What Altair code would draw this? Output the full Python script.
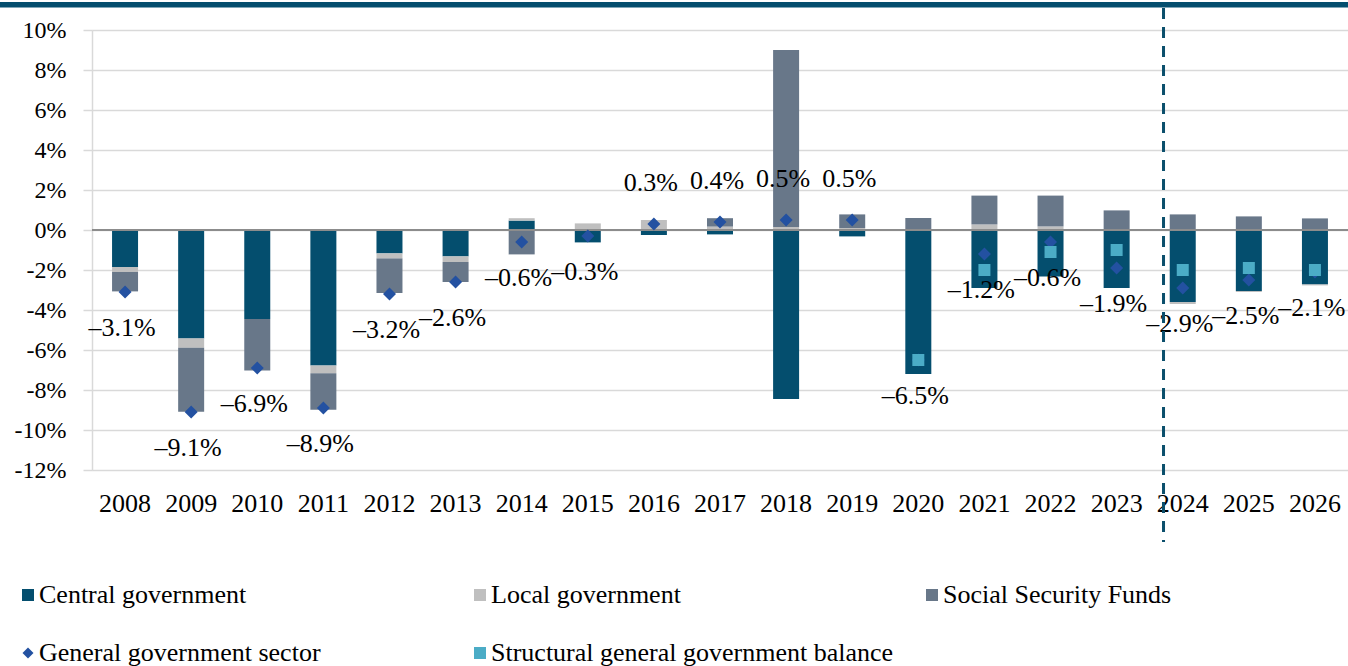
import altair as alt
import pandas as pd

SERIF = "Liberation Serif, Times New Roman, serif"

years = ["2008", "2009", "2010", "2011", "2012", "2013", "2014", "2015", "2016", "2017",
         "2018", "2019", "2020", "2021", "2022", "2023", "2024", "2025", "2026"]

# Balance by sub-sector, % of GDP
central = [-1.85, -5.42, -4.45, -6.78, -1.17, -1.32, 0.47, -0.62, -0.25, -0.22,
           -8.45, -0.32, -7.20, -2.90, -2.32, -2.90, -3.60, -3.05, -2.72]
local = [-0.25, -0.47, 0.00, -0.38, -0.25, -0.28, 0.12, 0.33, 0.50, 0.17,
         0.15, 0.10, 0.00, 0.28, 0.18, 0.00, -0.10, -0.05, -0.05]
social_security = [-0.97, -3.20, -2.58, -1.83, -1.73, -1.00, -1.22, 0.00, 0.00, 0.42,
                   8.85, 0.68, 0.60, 1.44, 1.54, 0.98, 0.78, 0.68, 0.58]

general_gov = [-3.1, -9.1, -6.9, -8.9, -3.2, -2.6, -0.6, -0.3, 0.3, 0.4,
               0.5, 0.5, -6.5, -1.2, -0.6, -1.9, -2.9, -2.5, -2.1]
structural_years = ["2020", "2021", "2022", "2023", "2024", "2025", "2026"]
structural = [-6.5, -2.0, -1.1, -1.0, -2.0, -1.9, -2.0]

series_names = ["Central government", "Local government", "Social Security Funds"]
series_colors = ["#044e6e", "#bfbfbf", "#687789"]
gg_name = "General government sector"
st_name = "Structural general government balance"
gg_color = "#2351a1"
st_color = "#4bacc6"

# long table for the stacked bars
rows = []
for order, (name, vals) in enumerate(zip(series_names, [central, local, social_security])):
    for y, v in zip(years, vals):
        rows.append({"year": y, "series": name, "value": v, "ord": order})
bar_df = pd.DataFrame(rows)

gg_df = pd.DataFrame({"year": years, "value": general_gov})
gg_df["label"] = gg_df["value"].map(lambda v: f"{v:.1f}%".replace("-", "\u2013"))
st_df = pd.DataFrame({"year": structural_years, "value": structural})

x_scale = alt.Scale(paddingInner=0.6, paddingOuter=0.3)
x_axis = alt.Axis(title=None, labelAngle=0, labelFont=SERIF, labelFontSize=26,
                  labelColor="#000000", labelPadding=20, domain=False, ticks=False,
                  grid=False)


def x_enc(**kw):
    return alt.X("year:N", sort=years, scale=x_scale, axis=x_axis, **kw)


y_scale = alt.Scale(domain=[-12, 10], nice=False, zero=False)
y_axis = alt.Axis(title=None, values=list(range(-12, 11, 2)),
                  labelExpr="datum.value + '%'",
                  labelFont=SERIF, labelFontSize=24, labelColor="#000000",
                  labelPadding=17, grid=True, gridColor="#d9d9d9", gridWidth=1.5,
                  domainColor="#d9d9d9", domainWidth=1.5,
                  tickColor="#d9d9d9", tickSize=9, tickWidth=1.5)


def y_enc(**kw):
    return alt.Y("value:Q", scale=y_scale, axis=y_axis, **kw)


bars = alt.Chart(bar_df).mark_bar(size=26).encode(
    x=x_enc(),
    y=y_enc(stack="zero"),
    color=alt.Color("series:N", scale=alt.Scale(domain=series_names, range=series_colors),
                    legend=None),
    order=alt.Order("ord:Q", sort="ascending"),
)

zero_line = alt.Chart(pd.DataFrame({"value": [0]})).mark_rule(
    color="#8c8c8c", strokeWidth=2
).encode(y=y_enc())

gg_points = alt.Chart(gg_df).mark_point(
    shape="diamond", filled=True, size=169, color=gg_color, opacity=1
).encode(x=x_enc(), y=y_enc())

st_points = alt.Chart(st_df).mark_point(
    shape="square", filled=True, size=144, color=st_color, opacity=1
).encode(x=x_enc(), y=y_enc())

label_style = dict(font=SERIF, fontSize=26, color="#000000", baseline="middle", dx=-3)
labels_neg = alt.Chart(gg_df).transform_filter("datum.value < 0").mark_text(
    dy=36, **label_style
).encode(x=x_enc(), y=y_enc(), text="label:N")
labels_pos = alt.Chart(gg_df).transform_filter("datum.value >= 0").mark_text(
    dy=-41, **label_style
).encode(x=x_enc(), y=y_enc(), text="label:N")

# forecast divider between the last outturn year and the projections
divider = alt.Chart(pd.DataFrame({"year": ["2024"]})).mark_rule(
    color="#0b4f6c", strokeWidth=3, strokeDash=[11, 8], xOffset=-6
).encode(x=x_enc(bandPosition=0), y=alt.value(-22), y2=alt.value(512))

# header rule across the top
header = alt.Chart(pd.DataFrame({"k": [0]})).mark_rect(color="#044e6e").encode(
    x=alt.value(-92), x2=alt.value(1256), y=alt.value(-28), y2=alt.value(-22.5)
)

# hand-built legend: two rows, columns 452px apart
legend_items = [
    (series_names[0], series_colors[0], "square", 144),
    (series_names[1], series_colors[1], "square", 144),
    (series_names[2], series_colors[2], "square", 144),
    (gg_name, gg_color, "diamond", 121),
    (st_name, st_color, "square", 144),
]
legend_layers = []
for i, (name, col, shape, sz) in enumerate(legend_items):
    row, colidx = divmod(i, 3)
    mx = -64 + 452 * colidx
    my = 565 + 58 * row
    one = pd.DataFrame({"t": [name]})
    legend_layers.append(
        alt.Chart(one).mark_point(shape=shape, filled=True, size=sz, color=col, opacity=1)
        .encode(x=alt.value(mx), y=alt.value(my))
    )
    legend_layers.append(
        alt.Chart(one).mark_text(font=SERIF, fontSize=26, color="#000000",
                                 align="left", baseline="middle")
        .encode(x=alt.value(mx + 11), y=alt.value(my), text="t:N")
    )

chart = alt.layer(
    bars, zero_line, gg_points, st_points, labels_neg, labels_pos, divider, header,
    *legend_layers
).properties(
    width=1256, height=440,
    padding={"left": 92, "top": 30, "right": 0, "bottom": 196},
    autosize=alt.AutoSizeParams(type="none"),
).configure_view(stroke=None).configure(background="#ffffff")

chart.save("out.html", embed_options={"renderer": "svg", "actions": False})
